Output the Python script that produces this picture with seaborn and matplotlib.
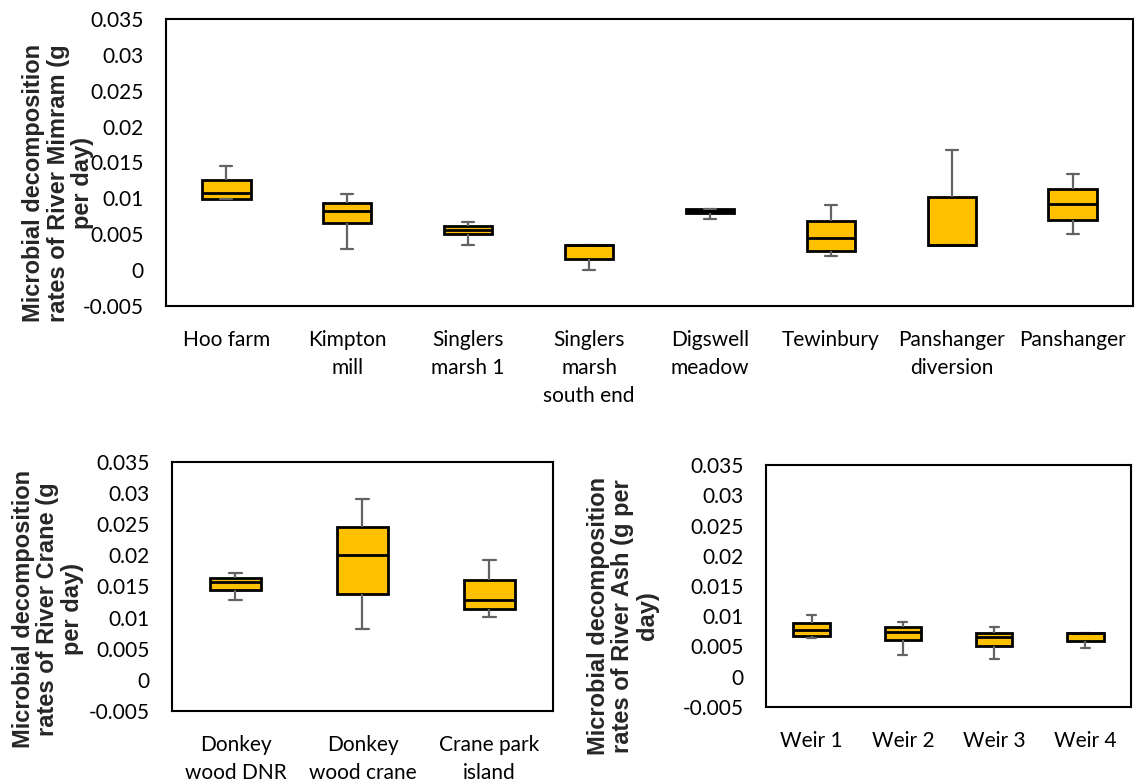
import numpy as np
import pandas as pd
import matplotlib
matplotlib.use('Agg')
import matplotlib.pyplot as plt
import seaborn as sns
from matplotlib.ticker import FuncFormatter


# five-number summaries: min, q1, median, q3, max
MIMRAM_SITES = ['Hoo farm', 'Kimpton\nmill', 'Singlers\nmarsh 1', 'Singlers\nmarsh\nsouth end',
                'Digswell\nmeadow', 'Tewinbury', 'Panshanger\ndiversion', 'Panshanger']
MIMRAM_MIN = [0.0099, 0.0030, 0.0035, 0.0000, 0.0071, 0.0020, 0.0035, 0.0050]
MIMRAM_Q1 = [0.0099, 0.0065, 0.0050, 0.0016, 0.0080, 0.0026, 0.0035, 0.0070]
MIMRAM_MED = [0.0107, 0.0082, 0.0056, 0.0035, 0.0083, 0.0045, 0.0035, 0.0092]
MIMRAM_Q3 = [0.0126, 0.0094, 0.0062, 0.0035, 0.0085, 0.0069, 0.0102, 0.0113]
MIMRAM_MAX = [0.0145, 0.0106, 0.0067, 0.0035, 0.0085, 0.0091, 0.0167, 0.0134]

CRANE_SITES = ['Donkey\nwood DNR', 'Donkey\nwood crane', 'Crane park\nisland']
CRANE_MIN = [0.0129, 0.0081, 0.0101]
CRANE_Q1 = [0.0144, 0.0138, 0.0114]
CRANE_MED = [0.0157, 0.0200, 0.0129]
CRANE_Q3 = [0.0164, 0.0246, 0.0161]
CRANE_MAX = [0.0171, 0.0291, 0.0192]

ASH_SITES = ['Weir 1', 'Weir 2', 'Weir 3', 'Weir 4']
ASH_MIN = [0.0064, 0.0036, 0.0030, 0.0047]
ASH_Q1 = [0.0068, 0.0061, 0.0051, 0.0059]
ASH_MED = [0.0077, 0.0074, 0.0065, 0.0073]
ASH_Q3 = [0.0089, 0.0082, 0.0073, 0.0073]
ASH_MAX = [0.0102, 0.0090, 0.0082, 0.0073]

YTICKS = [-0.005, 0, 0.005, 0.01, 0.015, 0.02, 0.025, 0.03, 0.035]

BOX_COLOR = '#FFC000'
WHISKER_COLOR = '#636363'


def long_table(sites, *cols):
	rows = []
	for i, s in enumerate(sites):
		for col in cols:
			rows.append((s, col[i]))
	return pd.DataFrame(rows, columns = ['site', 'rate'])


def draw_panel(fig, rect, sites, summary, ylabel, label_xy):
	ax = fig.add_axes(rect)
	df = long_table(sites, *summary)
	sns.boxplot(data = df, x = 'site', y = 'rate', order = sites, ax = ax,
		whis = (0, 100), width = 0.4, color = BOX_COLOR, saturation = 1,
		linecolor = 'black', linewidth = 2, capwidths = 0.1,
		whiskerprops = dict(color = WHISKER_COLOR, linewidth = 1.6),
		capprops = dict(color = WHISKER_COLOR, linewidth = 1.6),
		medianprops = dict(color = 'black', linewidth = 2))
	ax.set_ylim(-0.005, 0.035)
	ax.set_yticks(YTICKS)
	ax.yaxis.set_major_formatter(FuncFormatter(lambda v, p: '%g' % round(v, 3)))
	ax.set_xlabel('')
	ax.set_ylabel('')
	ax.tick_params(axis = 'both', length = 0, labelsize = 15, colors = 'black')
	ax.tick_params(axis = 'y', pad = 16)
	ax.tick_params(axis = 'x', pad = 17)
	for lab in ax.get_xticklabels():
		lab.set_linespacing(1.5)
	for sp in ax.spines.values():
		sp.set_visible(True)
		sp.set_color('black')
		sp.set_linewidth(1.5)
	fig.text(label_xy[0] / 1135, 1 - label_xy[1] / 783, ylabel, rotation = 90,
		ha = 'center', va = 'center', multialignment = 'center',
		fontsize = 17, fontweight = 'bold', family = 'Liberation Sans', linespacing = 1.1)
	return ax


sns.set_style('white')
plt.rcParams['font.family'] = ['Lato', 'DejaVu Sans']

fig = plt.figure(figsize = (11.35, 7.83), dpi = 100)

draw_panel(fig, [166 / 1135, 1 - 306 / 783, 967 / 1135, 287 / 783], MIMRAM_SITES,
	(MIMRAM_MIN, MIMRAM_Q1, MIMRAM_MED, MIMRAM_Q3, MIMRAM_MAX),
	'Microbial decomposition\nrates of River Mimram (g\nper day)', (58, 183))

draw_panel(fig, [172 / 1135, 1 - 711 / 783, 381 / 1135, 249 / 783], CRANE_SITES,
	(CRANE_MIN, CRANE_Q1, CRANE_MED, CRANE_Q3, CRANE_MAX),
	'Microbial decomposition\nrates of River Crane (g\nper day)', (48, 609))

draw_panel(fig, [766 / 1135, 1 - 707 / 783, 365 / 1135, 242 / 783], ASH_SITES,
	(ASH_MIN, ASH_Q1, ASH_MED, ASH_Q3, ASH_MAX),
	'Microbial decomposition\nrates of River Ash (g per\nday)', (623, 616))

fig.savefig('out.png', dpi = 100)
plt.close()
